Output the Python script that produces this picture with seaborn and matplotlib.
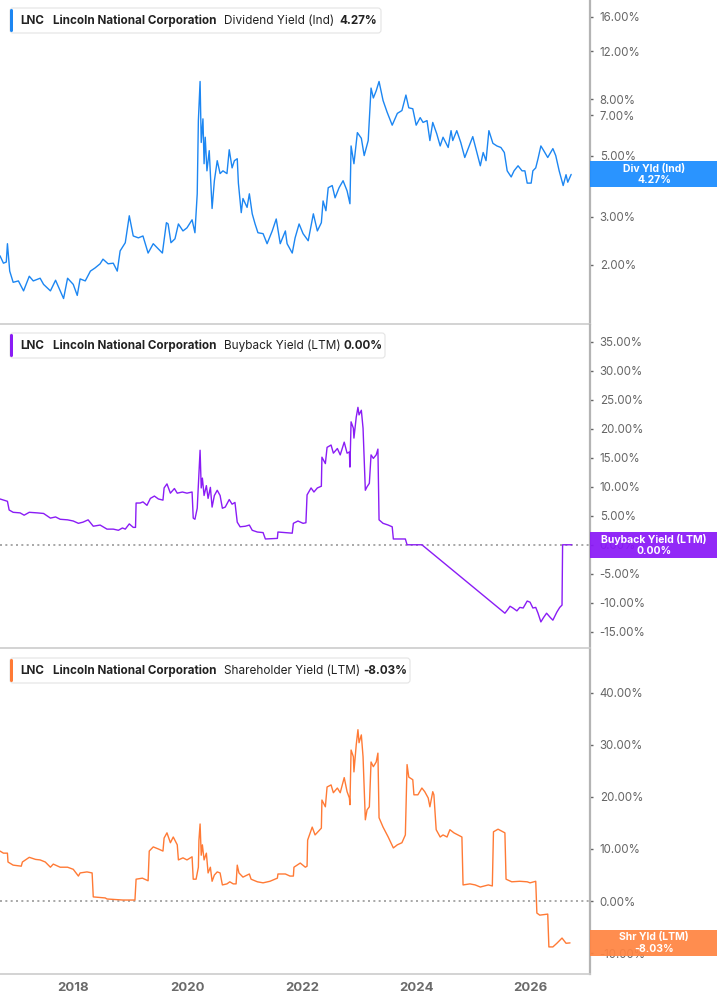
import numpy as np
import pandas as pd
import matplotlib
matplotlib.use("Agg")
import matplotlib.pyplot as plt
from matplotlib.patches import FancyBboxPatch, Rectangle
from matplotlib.transforms import IdentityTransform
import seaborn as sns

# ---- data (decimal years, values in %) ----
div_years = [2016.72, 2016.78, 2016.83, 2016.85, 2016.89, 2016.95, 2017.04, 2017.13, 2017.23, 2017.30,
             2017.42, 2017.48, 2017.60, 2017.69, 2017.83, 2017.90, 2018.00, 2018.07, 2018.12, 2018.21,
             2018.30, 2018.38, 2018.47, 2018.52, 2018.61, 2018.70, 2018.77, 2018.82, 2018.91, 2018.98,
             2019.05, 2019.14, 2019.22, 2019.31, 2019.40, 2019.47, 2019.56, 2019.63, 2019.66, 2019.71,
             2019.78, 2019.84, 2019.92, 2019.99, 2020.08, 2020.13, 2020.17, 2020.19, 2020.22, 2020.24,
             2020.27, 2020.29, 2020.31, 2020.34, 2020.38, 2020.43, 2020.47, 2020.52, 2020.57, 2020.62,
             2020.69, 2020.73, 2020.78, 2020.82, 2020.87, 2020.89, 2020.94, 2020.97, 2021.04, 2021.08,
             2021.13, 2021.18, 2021.23, 2021.32, 2021.39, 2021.48, 2021.55, 2021.62, 2021.71, 2021.74,
             2021.83, 2021.88, 2021.95, 2022.02, 2022.11, 2022.20, 2022.27, 2022.34, 2022.37, 2022.42,
             2022.46, 2022.53, 2022.58, 2022.65, 2022.72, 2022.79, 2022.84, 2022.86, 2022.91, 2022.97,
             2023.04, 2023.09, 2023.16, 2023.21, 2023.25, 2023.30, 2023.35, 2023.42, 2023.49, 2023.58,
             2023.67, 2023.75, 2023.82, 2023.87, 2023.94, 2024.00, 2024.07, 2024.12, 2024.19, 2024.24,
             2024.29, 2024.36, 2024.42, 2024.47, 2024.56, 2024.61, 2024.64, 2024.71, 2024.78, 2024.85,
             2024.91, 2024.99, 2025.06, 2025.12, 2025.17, 2025.22, 2025.27, 2025.34, 2025.41, 2025.48,
             2025.54, 2025.59, 2025.66, 2025.71, 2025.78, 2025.85, 2025.90, 2025.94, 2026.01, 2026.04,
             2026.09, 2026.13, 2026.18, 2026.23, 2026.30, 2026.39, 2026.44, 2026.50, 2026.57, 2026.62,
             2026.65, 2026.71]
div_yield = [2.16, 2.03, 2.05, 2.39, 1.90, 1.73, 1.75, 1.61, 1.82, 1.75,
             1.79, 1.70, 1.61, 1.76, 1.51, 1.79, 1.70, 1.55, 1.78, 1.75,
             1.90, 1.95, 2.02, 2.10, 2.02, 2.03, 1.90, 2.25, 2.41, 3.02,
             2.55, 2.51, 2.55, 2.21, 2.39, 2.31, 2.21, 2.85, 2.82, 2.41,
             2.49, 2.82, 2.66, 2.73, 2.92, 2.62, 3.63, 6.70, 9.30, 5.58,
             6.80, 4.67, 5.83, 4.40, 5.21, 3.21, 4.05, 4.79, 4.30, 4.40,
             4.30, 5.25, 4.51, 4.79, 4.87, 3.97, 3.10, 3.49, 3.24, 3.63,
             3.07, 2.82, 2.62, 2.60, 2.39, 2.66, 2.94, 2.39, 2.66, 2.39,
             2.21, 2.51, 2.82, 2.60, 2.45, 3.07, 2.66, 2.85, 3.42, 3.15,
             3.82, 3.89, 3.51, 3.82, 4.05, 3.72, 3.34, 5.42, 4.67, 6.06,
             5.78, 5.00, 5.67, 8.80, 8.10, 8.60, 9.30, 7.93, 7.20, 6.45,
             7.12, 7.29, 8.30, 7.46, 7.40, 6.45, 6.87, 6.60, 6.70, 5.67,
             6.60, 6.00, 5.42, 5.83, 5.35, 6.16, 5.67, 6.16, 5.58, 4.92,
             5.30, 5.86, 5.13, 4.59, 5.13, 4.79, 6.16, 5.54, 5.42, 5.35,
             5.13, 4.40, 4.18, 4.40, 4.59, 4.40, 4.40, 3.97, 3.97, 4.40,
             4.51, 4.87, 5.42, 5.21, 4.92, 5.30, 5.00, 4.40, 3.89, 4.26,
             4.00, 4.27]

buy_years = [2016.72, 2016.85, 2016.88, 2016.95, 2017.07, 2017.14, 2017.23, 2017.37, 2017.48, 2017.60,
             2017.69, 2017.77, 2017.90, 2018.00, 2018.09, 2018.17, 2018.26, 2018.35, 2018.47, 2018.59,
             2018.70, 2018.79, 2018.86, 2018.91, 2018.98, 2019.05, 2019.09, 2019.10, 2019.17, 2019.22,
             2019.29, 2019.35, 2019.42, 2019.49, 2019.57, 2019.59, 2019.64, 2019.70, 2019.77, 2019.82,
             2019.91, 2019.99, 2020.08, 2020.10, 2020.13, 2020.17, 2020.20, 2020.22, 2020.24, 2020.26,
             2020.29, 2020.33, 2020.36, 2020.40, 2020.43, 2020.47, 2020.52, 2020.57, 2020.61, 2020.66,
             2020.73, 2020.78, 2020.83, 2020.87, 2020.92, 2021.01, 2021.08, 2021.13, 2021.22, 2021.32,
             2021.36, 2021.57, 2021.58, 2021.83, 2021.85, 2021.93, 2022.02, 2022.07, 2022.09, 2022.16,
             2022.21, 2022.27, 2022.34, 2022.35, 2022.41, 2022.44, 2022.51, 2022.55, 2022.62, 2022.67,
             2022.74, 2022.79, 2022.83, 2022.84, 2022.86, 2022.90, 2022.91, 2022.95, 2022.98, 2023.00,
             2023.04, 2023.07, 2023.11, 2023.14, 2023.18, 2023.21, 2023.25, 2023.30, 2023.33, 2023.35,
             2023.42, 2023.51, 2023.58, 2023.60, 2023.81, 2023.84, 2024.10, 2025.55, 2025.59, 2025.64,
             2025.69, 2025.76, 2025.81, 2025.87, 2025.94, 2025.99, 2026.04, 2026.09, 2026.13, 2026.18,
             2026.23, 2026.28, 2026.35, 2026.39, 2026.46, 2026.51, 2026.55, 2026.56, 2026.72]
buy_yield = [7.9, 7.5, 6.0, 5.6, 5.5, 5.1, 5.6, 5.5, 5.4, 4.6,
             4.8, 4.4, 4.3, 4.1, 3.7, 3.9, 4.3, 3.2, 3.4, 2.7,
             2.7, 2.5, 2.9, 2.7, 3.6, 3.0, 3.0, 7.2, 7.2, 7.4,
             6.8, 8.0, 8.4, 7.9, 7.7, 9.8, 10.5, 8.9, 9.7, 8.9,
             9.1, 8.9, 9.1, 4.6, 4.4, 6.3, 12.5, 16.3, 9.8, 11.5,
             8.5, 10.2, 8.0, 9.9, 6.5, 8.5, 9.4, 8.5, 6.3, 6.5,
             7.8, 7.0, 7.3, 3.9, 3.1, 3.2, 3.4, 2.5, 2.2, 2.1,
             1.0, 1.1, 2.2, 2.0, 3.7, 4.1, 3.7, 3.8, 8.6, 9.8,
             9.1, 9.8, 10.1, 15.1, 14.0, 16.8, 17.2, 15.8, 16.6, 15.5,
             17.7, 15.8, 16.0, 13.4, 21.2, 20.1, 18.4, 22.0, 23.7, 22.4,
             23.2, 20.1, 9.4, 10.0, 10.6, 15.5, 14.9, 15.5, 16.5, 4.3,
             3.7, 3.4, 3.1, 1.0, 1.0, 0.0, 0.0, -11.8, -11.3, -10.6,
             -10.9, -11.4, -10.8, -10.9, -9.7, -9.9, -10.9, -10.8, -11.8, -13.3,
             -12.5, -11.8, -12.6, -13.0, -11.6, -10.8, -10.4, 0.0, 0.0]

shr_years = [2016.72, 2016.78, 2016.85, 2016.86, 2016.95, 2017.09, 2017.11, 2017.23, 2017.34, 2017.42,
             2017.51, 2017.60, 2017.65, 2017.77, 2017.90, 2018.00, 2018.09, 2018.12, 2018.24, 2018.33,
             2018.35, 2018.56, 2018.59, 2018.87, 2019.08, 2019.10, 2019.21, 2019.31, 2019.33, 2019.40,
             2019.49, 2019.57, 2019.59, 2019.64, 2019.70, 2019.75, 2019.82, 2019.84, 2019.92, 2019.99,
             2020.08, 2020.10, 2020.15, 2020.19, 2020.20, 2020.22, 2020.24, 2020.26, 2020.29, 2020.33,
             2020.36, 2020.40, 2020.43, 2020.47, 2020.52, 2020.57, 2020.61, 2020.69, 2020.74, 2020.80,
             2020.85, 2020.87, 2020.90, 2020.97, 2021.04, 2021.08, 2021.11, 2021.22, 2021.32, 2021.44,
             2021.57, 2021.58, 2021.71, 2021.79, 2021.85, 2021.86, 2021.97, 2022.06, 2022.09, 2022.10,
             2022.18, 2022.23, 2022.28, 2022.34, 2022.35, 2022.41, 2022.44, 2022.51, 2022.55, 2022.62,
             2022.67, 2022.74, 2022.79, 2022.83, 2022.84, 2022.86, 2022.90, 2022.91, 2022.95, 2022.98,
             2023.00, 2023.04, 2023.07, 2023.11, 2023.14, 2023.18, 2023.21, 2023.25, 2023.30, 2023.33,
             2023.35, 2023.42, 2023.51, 2023.60, 2023.67, 2023.75, 2023.81, 2023.84, 2023.87, 2023.94,
             2023.96, 2024.03, 2024.10, 2024.15, 2024.21, 2024.24, 2024.29, 2024.31, 2024.35, 2024.42,
             2024.47, 2024.54, 2024.59, 2024.66, 2024.73, 2024.80, 2024.82, 2024.94, 2025.03, 2025.12,
             2025.26, 2025.33, 2025.35, 2025.43, 2025.55, 2025.57, 2025.67, 2025.81, 2025.94, 2025.99,
             2026.09, 2026.11, 2026.16, 2026.30, 2026.32, 2026.39, 2026.46, 2026.55, 2026.62, 2026.69]
shr_yield = [9.6, 9.2, 9.2, 7.5, 6.9, 6.7, 7.5, 8.4, 8.0, 7.9,
             7.5, 6.5, 7.1, 6.5, 6.5, 6.1, 4.8, 5.4, 5.6, 5.4,
             0.8, 0.6, 0.4, 0.2, 0.2, 4.2, 4.4, 3.9, 9.6, 10.4,
             10.0, 9.6, 12.1, 13.1, 11.2, 12.3, 10.8, 7.9, 8.3, 7.9,
             8.5, 4.2, 4.2, 6.5, 11.7, 14.8, 8.8, 10.8, 7.9, 9.2,
             5.4, 6.5, 3.8, 5.0, 5.6, 5.4, 3.1, 3.3, 3.7, 3.3,
             3.3, 6.9, 5.4, 4.6, 5.0, 5.2, 4.2, 3.7, 3.5, 3.8,
             4.4, 5.2, 5.2, 4.8, 4.8, 6.5, 7.3, 6.5, 6.7, 11.7,
             14.2, 12.7, 13.3, 14.0, 19.4, 18.1, 21.9, 22.3, 20.8, 21.7,
             20.8, 23.7, 21.0, 19.8, 18.5, 29.0, 27.7, 24.8, 30.0, 32.9,
             30.4, 31.9, 27.7, 15.6, 17.5, 18.1, 26.7, 25.8, 26.7, 28.4,
             16.0, 14.2, 12.3, 10.2, 10.8, 11.2, 12.7, 26.2, 23.8, 23.3,
             20.4, 20.4, 21.7, 21.0, 19.8, 18.1, 21.0, 20.4, 13.7, 12.3,
             12.7, 12.3, 13.7, 13.1, 12.7, 12.3, 3.1, 3.3, 3.1, 2.7,
             3.1, 2.9, 13.3, 13.8, 13.1, 4.2, 3.7, 3.8, 3.7, 3.5,
             3.8, -2.3, -2.7, -2.5, -8.8, -8.8, -8.1, -7.1, -8.1, -8.03]

div_ticks = [2, 3, 5, 7, 8, 12, 16]
buy_ticks = [-15, -10, -5, 0, 5, 10, 15, 20, 25, 30, 35]
shr_ticks = [-10, 0, 10, 20, 30, 40]
year_ticks = [2018, 2020, 2022, 2024, 2026]

BLUE, BLUE_BOX = "#1c86f2", "#1a8cff"
PURPLE, PURPLE_BOX = "#8a1cf5", "#8a18f7"
ORANGE, ORANGE_BOX = "#ff7a35", "#ff8442"


def to_dates(years):
    years = np.asarray(years, dtype=float)
    whole = np.floor(years).astype(int)
    base = pd.to_datetime([f"{y}-01-01" for y in whole])
    return base + pd.to_timedelta((years - whole) * 365.25, unit="D")


sns.set_style("white")
plt.rcParams["font.family"] = ["Inter", "DejaVu Sans"]

W, H = 717, 1005
fig = plt.figure(figsize=(W / 100, H / 100), dpi=100)
PX = IdentityTransform()

RIGHT = 590
panels = [
    (0, 324, div_years, div_yield, BLUE, BLUE_BOX, "Dividend Yield (Ind)", "4.27%", "Div Yld (Ind)", 339, 381),
    (325, 648, buy_years, buy_yield, PURPLE, PURPLE_BOX, "Buyback Yield (LTM)", "0.00%", "Buyback Yield (LTM)", 343, 385),
    (650, 974, shr_years, shr_yield, ORANGE, ORANGE_BOX, "Shareholder Yield (LTM)", "-8.03%", "Shr Yld (LTM)", 363, 410),
]
xlim = to_dates([2016.72, 2027.04])

axes = []
for top, bot, yrs, vals, col, *_ in panels:
    ax = fig.add_axes([0, 1 - bot / H, RIGHT / W, (bot - top) / H])
    axes.append(ax)
    sns.lineplot(x=to_dates(yrs), y=vals, ax=ax, color=col, linewidth=1.0,
                 estimator=None, sort=False)
    ax.set_xlim(xlim)
    for s in ["top", "left"]:
        ax.spines[s].set_visible(False)
    ax.spines["right"].set_color("#b4b4b4")
    ax.spines["right"].set_linewidth(1.6)
    ax.spines["bottom"].set_color("#cccccc")
    ax.spines["bottom"].set_linewidth(1.2)
    ax.yaxis.tick_right()
    ax.tick_params(axis="y", length=2.5, width=1, color="#666666", labelcolor="#666666",
                   labelsize=8.3, pad=4.5)
    ax.set_xlabel("")
    ax.set_ylabel("")

ax1, ax2, ax3 = axes

# panel 1: log scale
ax1.set_yscale("log")
ax1.set_ylim(1.22, 18.4)
ax1.set_yticks(div_ticks)
ax1.set_yticklabels([f"{t:.2f}%" for t in div_ticks])
ax1.yaxis.set_minor_locator(matplotlib.ticker.NullLocator())

ax2.set_ylim(-17.8, 37.9)
ax2.set_yticks(buy_ticks)
ax2.set_yticklabels([f"{t:.2f}%" for t in buy_ticks])
ax2.axhline(0, color="#9a9a9a", lw=1.2, ls=(0, (1.2, 2)), zorder=0)

ax3.set_ylim(-14, 48.2)
ax3.set_yticks(shr_ticks)
ax3.set_yticklabels([f"{t:.2f}%" for t in shr_ticks])
ax3.axhline(0, color="#9a9a9a", lw=1.2, ls=(0, (1.2, 2)), zorder=0)

for ax in (ax1, ax2):
    ax.set_xticks([])
ax3.set_xticks(to_dates(year_ticks))
ax3.set_xticklabels([str(y) for y in year_ticks], fontweight="bold")
ax3.tick_params(axis="x", length=4, width=1, color="#b4b4b4", labelcolor="#6a6a6a",
                labelsize=9.5, pad=2)

# header boxes and right-hand value tags
for ax, (top, bot, yrs, vals, col, boxcol, metric, last, tag, valx, boxr) in zip(axes, panels):
    y0 = H - (top + 33)
    fig.add_artist(FancyBboxPatch((10, y0), boxr - 10, 25, transform=PX,
                                  boxstyle="round,pad=0,rounding_size=3",
                                  facecolor="white", edgecolor="#e4e4e4", lw=0.8, zorder=3))
    fig.add_artist(FancyBboxPatch((10, y0 + 1), 3, 23, transform=PX,
                                  boxstyle="round,pad=0,rounding_size=1.5",
                                  facecolor=col, edgecolor="none", zorder=4))
    yc = H - (top + 21)
    for x, s, wt, fs in [(20, "LNC", "bold", 8.4), (53, "Lincoln National Corporation", "bold", 8.4),
                         (224, metric, "normal", 8.5), (valx, last, "bold", 8.4)]:
        fig.text(x, yc, s, transform=PX, fontsize=fs, fontweight=wt, color="#222222",
                 ha="left", va="center", zorder=5)

    ydisp = ax.transData.transform((0, vals[-1]))[1]
    fig.add_artist(Rectangle((RIGHT, ydisp - 13), W - RIGHT, 26, transform=PX,
                             facecolor=boxcol, edgecolor="none", alpha=0.93, zorder=3))
    fig.text(654, ydisp + 5.5, tag, transform=PX, fontsize=7.5, fontweight="bold",
             color="white", ha="center", va="center", zorder=4)
    fig.text(654, ydisp - 6, last, transform=PX, fontsize=7.5, fontweight="bold",
             color="white", ha="center", va="center", zorder=4)

fig.savefig("out.png", dpi=100)
